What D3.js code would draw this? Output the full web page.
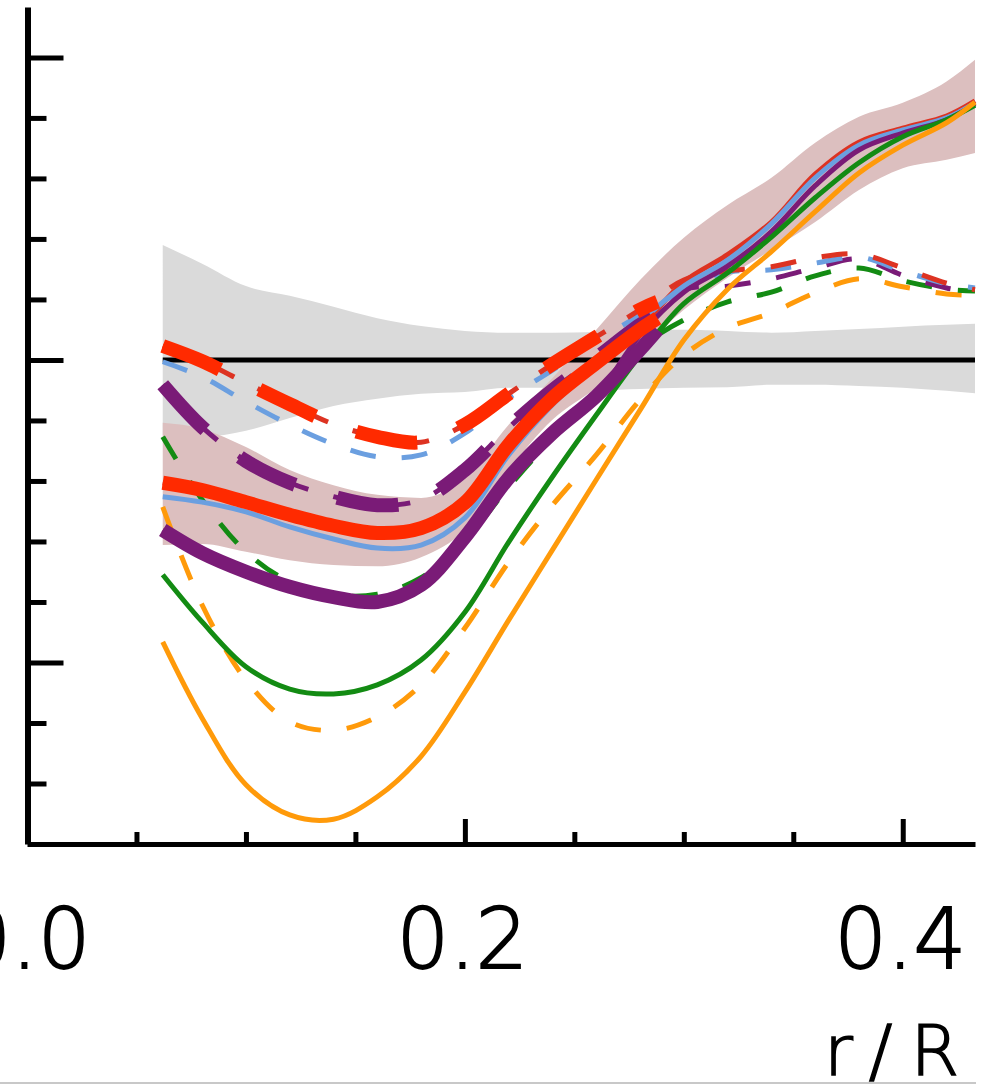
<!DOCTYPE html>
<html><head><meta charset="utf-8">
<script src="https://cdn.jsdelivr.net/npm/d3@7"></script>
<style>body{margin:0;background:#fff}svg{display:block}</style>
</head><body>
<svg id="c" width="984" height="1086"></svg>
<script>
// ---------- data ----------
const rThin  = [0.062,0.08,0.10,0.12,0.14,0.16,0.18,0.20,0.22,0.24,0.26,0.28,0.30,0.32,0.34,0.36,0.38,0.40,0.42,0.433];
const rThick = [0.062,0.08,0.10,0.12,0.14,0.16,0.18,0.20,0.22,0.24,0.26,0.28,0.288];

const grayUpper = [0.190,0.159,0.122,0.106,0.088,0.069,0.056,0.048,0.045,0.045,0.046,0.050,0.050,0.048,0.045,0.048,0.051,0.055,0.058,0.060];
const grayLower = [-0.124,-0.127,-0.117,-0.096,-0.076,-0.064,-0.056,-0.053,-0.046,-0.046,-0.050,-0.048,-0.046,-0.045,-0.041,-0.041,-0.043,-0.046,-0.051,-0.055];
const roseUpper = [-0.104,-0.114,-0.144,-0.182,-0.207,-0.223,-0.228,-0.195,-0.107,-0.030,0.050,0.132,0.202,0.256,0.301,0.359,0.402,0.425,0.460,0.496];
const roseLower = [-0.306,-0.304,-0.317,-0.331,-0.339,-0.341,-0.326,-0.281,-0.182,-0.099,-0.046,0.017,0.083,0.136,0.182,0.228,0.281,0.317,0.331,0.342];

const redSolidThin    = [-0.203,-0.215,-0.235,-0.256,-0.274,-0.286,-0.278,-0.236,-0.140,-0.063,-0.005,0.053,0.129,0.174,0.228,0.307,0.360,0.383,0.403,0.428];
const blueSolid       = [-0.226,-0.235,-0.251,-0.276,-0.296,-0.311,-0.306,-0.261,-0.157,-0.074,-0.008,0.063,0.122,0.165,0.225,0.301,0.355,0.380,0.400,0.425];
const purpleSolidThin = [-0.281,-0.319,-0.350,-0.375,-0.392,-0.400,-0.372,-0.293,-0.195,-0.121,-0.060,0.041,0.112,0.155,0.212,0.288,0.347,0.375,0.397,0.423];
const greenSolid      = [-0.355,-0.433,-0.507,-0.544,-0.552,-0.537,-0.496,-0.417,-0.301,-0.193,-0.091,0.008,0.093,0.144,0.203,0.268,0.326,0.369,0.397,0.421];
const orangeSolid     = [-0.466,-0.592,-0.702,-0.752,-0.759,-0.722,-0.655,-0.549,-0.430,-0.314,-0.198,-0.083,0.033,0.117,0.179,0.245,0.309,0.355,0.392,0.426];

const redDashThin     = [0.023,-0.002,-0.038,-0.073,-0.106,-0.127,-0.136,-0.107,-0.056,-0.007,0.038,0.083,0.132,0.147,0.154,0.169,0.175,0.152,0.127,0.116];
const blueDash        = [-0.003,-0.028,-0.069,-0.107,-0.139,-0.160,-0.157,-0.121,-0.063,-0.017,0.031,0.074,0.116,0.145,0.149,0.160,0.170,0.147,0.126,0.119];
const purpleDashThin  = [-0.041,-0.111,-0.167,-0.203,-0.226,-0.240,-0.231,-0.182,-0.112,-0.050,0.003,0.058,0.116,0.122,0.134,0.152,0.167,0.140,0.119,0.112];
const greenDash       = [-0.127,-0.231,-0.317,-0.367,-0.388,-0.387,-0.360,-0.298,-0.210,-0.129,-0.055,0.020,0.066,0.096,0.112,0.139,0.152,0.131,0.117,0.114];
const orangeDash      = [-0.243,-0.405,-0.529,-0.598,-0.612,-0.590,-0.537,-0.443,-0.334,-0.240,-0.157,-0.066,0.008,0.053,0.078,0.111,0.134,0.121,0.109,0.107];

const redSolidThick   = [-0.203,-0.215,-0.235,-0.256,-0.274,-0.286,-0.278,-0.236,-0.140,-0.063,-0.005,0.050,0.069];
const redDashThick    = [0.023,-0.002,-0.038,-0.073,-0.106,-0.127,-0.136,-0.107,-0.056,-0.007,0.038,0.083,0.096];
const purpleSolidThick= [-0.281,-0.319,-0.350,-0.375,-0.392,-0.400,-0.372,-0.293,-0.195,-0.121,-0.060,0.017,0.050];
const purpleDashThick = [-0.041,-0.111,-0.167,-0.203,-0.226,-0.240,-0.231,-0.182,-0.112,-0.050,0.003,0.058,0.074];

const xTickMajor = [0.2,0.4];
const xTickMinor = [0.05,0.1,0.15,0.25,0.3,0.35];
const xTickLabels = [0.0,0.2,0.4];
const yTickMajor = [-0.5,0,0.5];
const yTickMinor = [-0.7,-0.6,-0.4,-0.3,-0.2,-0.1,0.1,0.2,0.3,0.4];
const xTitle = "r/R";

// ---------- styles ----------
const C = {red:"#ff2a00", redThin:"#dd3322", purple:"#7a1b77", blue:"#6b9fe0", green:"#138b13", orange:"#ff9a0a"};
const THIN = 5, THICK = 14, THIN_DASH = "26,26", THICK_DASH = "62,44";
const FONT = "'DejaVu Sans', sans-serif";

const svg = d3.select("#c");
const x = d3.scaleLinear().domain([0,0.433]).range([27,975]);
const y = d3.scaleLinear().domain([-0.8,0.5833]).range([844,7]);

function zipData(rs, vs){ return rs.map((r,i)=>({r, v: vs[i]})); }
function band(up, lo, fill){
  const d = rThin.map((r,i)=>({r, u: up[i], l: lo[i]}));
  svg.append("path").datum(d)
    .attr("d", d3.area().x(p=>x(p.r)).y0(p=>y(p.l)).y1(p=>y(p.u)).curve(d3.curveMonotoneX))
    .attr("fill", fill);
}
band(grayUpper, grayLower, "#dadada");
band(roseUpper, roseLower, "#dcbfbf");

// zero reference line
svg.append("line").attr("x1", x(rThin[0])).attr("x2", x(rThin[rThin.length-1]))
  .attr("y1", y(0)).attr("y2", y(0)).attr("stroke","#000").attr("stroke-width",5);

const line = d3.line().x(p=>x(p.r)).y(p=>y(p.v)).curve(d3.curveCatmullRom.alpha(0.5));
const series = [
  {r:rThin, v:orangeDash, c:C.orange, w:THIN, d:THIN_DASH},
  {r:rThin, v:greenDash, c:C.green, w:THIN, d:THIN_DASH},
  {r:rThin, v:purpleDashThin, c:C.purple, w:THIN, d:THIN_DASH},
  {r:rThin, v:blueDash, c:C.blue, w:THIN, d:THIN_DASH},
  {r:rThin, v:redDashThin, c:C.redThin, w:THIN, d:THIN_DASH},
  {r:rThin, v:redSolidThin, c:C.redThin, w:THIN, d:null},
  {r:rThin, v:blueSolid, c:C.blue, w:THIN, d:null},
  {r:rThin, v:purpleSolidThin, c:C.purple, w:THIN, d:null},
  {r:rThin, v:greenSolid, c:C.green, w:THIN, d:null},
  {r:rThin, v:orangeSolid, c:C.orange, w:THIN, d:null},
  {r:rThick, v:purpleDashThick, c:C.purple, w:THICK, d:THICK_DASH},
  {r:rThick, v:purpleSolidThick, c:C.purple, w:THICK, d:null},
  {r:rThick, v:redSolidThick, c:C.red, w:THICK, d:null},
  {r:rThick, v:redDashThick, c:C.red, w:THICK, d:THICK_DASH}
];
series.forEach(s=>{
  svg.append("path").datum(zipData(s.r, s.v)).attr("d", line)
    .attr("fill","none").attr("stroke", s.c).attr("stroke-width", s.w)
    .attr("stroke-dasharray", s.d).attr("stroke-linecap","butt");
});

// ---------- axes ----------
function styleAxis(g, dw, tw){
  g.select(".domain").attr("stroke","#000").attr("stroke-width",dw);
  g.selectAll(".tick line").attr("stroke","#000").attr("stroke-width",tw);
}
const yl = 27.5;
svg.append("g").attr("transform",`translate(${yl},0)`)
  .call(d3.axisLeft(y).tickValues(yTickMinor).tickSizeInner(-19).tickSizeOuter(0).tickFormat(""))
  .call(g=>styleAxis(g,6,5));
svg.append("g").attr("transform",`translate(${yl},0)`)
  .call(d3.axisLeft(y).tickValues(yTickMajor).tickSizeInner(-36).tickSizeOuter(0).tickFormat(""))
  .call(g=>{g.select(".domain").remove(); styleAxis(g,6,5);});

const xb = 844;
svg.append("g").attr("transform",`translate(0,${xb})`)
  .call(d3.axisBottom(x).tickValues(xTickMinor).tickSizeInner(-12).tickSizeOuter(0).tickFormat(""))
  .call(g=>styleAxis(g,5,5));
svg.append("g").attr("transform",`translate(0,${xb})`)
  .call(d3.axisBottom(x).tickValues(xTickMajor).tickSizeInner(-25).tickSizeOuter(0).tickFormat(""))
  .call(g=>{g.select(".domain").remove(); styleAxis(g,5,5);});
svg.append("g").attr("transform",`translate(0,${xb})`)
  .call(d3.axisBottom(x).tickValues(xTickLabels).tickSize(0).tickFormat(d3.format(".1f")))
  .call(g=>{
    g.select(".domain").remove();
    g.selectAll("text").attr("y",124).attr("dy",0).attr("dx",-3)
      .attr("font-family",FONT).attr("font-weight",200)
      .attr("font-size",83).attr("fill","#000")
      .attr("stroke","#000").attr("stroke-width",1.8);
  });

// axis title, glyphs spread apart like the reference
svg.append("text").attr("x",824).attr("y",1075).attr("dx","0 16 18")
  .attr("font-family",FONT).attr("font-weight",200)
  .attr("font-size",70).attr("fill","#000")
  .attr("stroke","#000").attr("stroke-width",1.6).text(xTitle);

svg.append("line").attr("x1",0).attr("x2",976).attr("y1",1083).attr("y2",1083)
  .attr("stroke","#c8c8c8").attr("stroke-width",2);
</script>
</body></html>
